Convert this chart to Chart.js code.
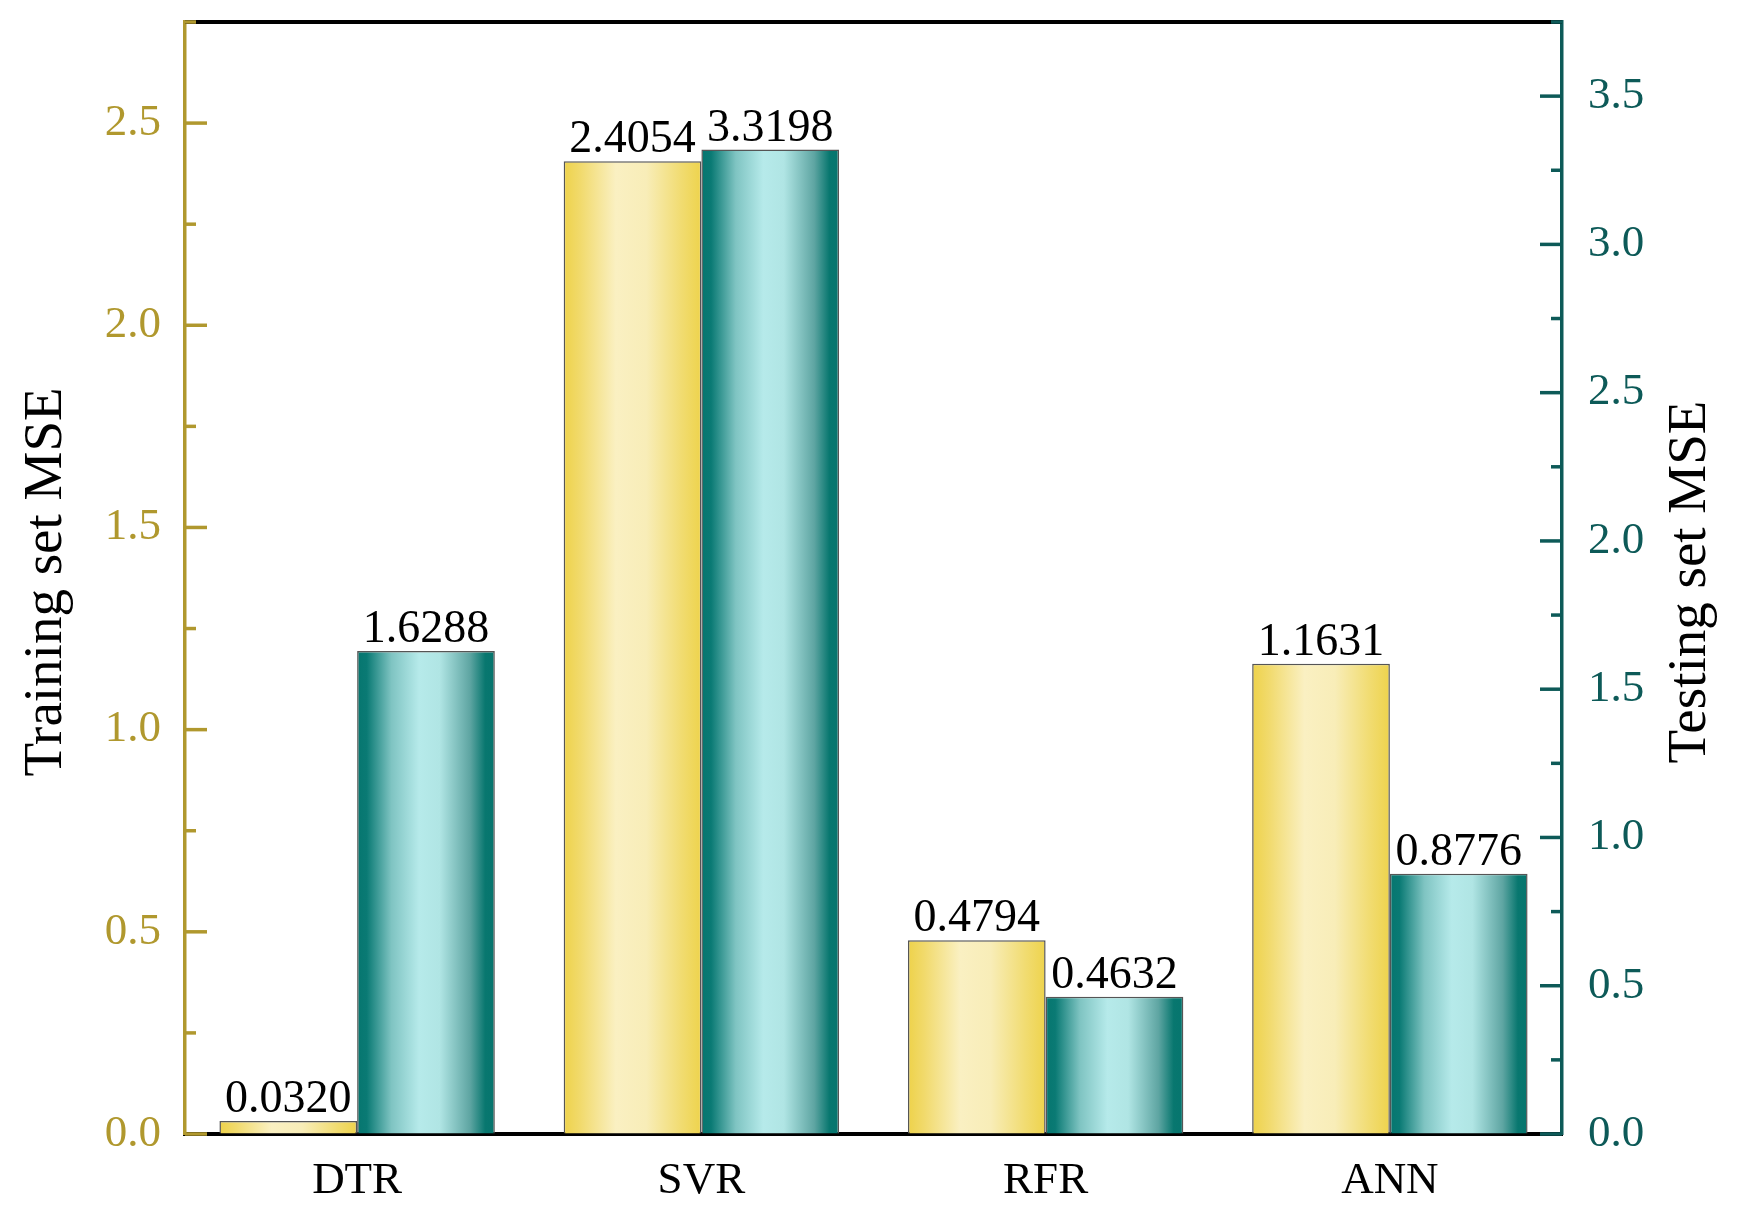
<!DOCTYPE html>
<html>
<head>
<meta charset="utf-8">
<title>Training and testing MSE</title>
<script src="https://cdn.jsdelivr.net/npm/chart.js@4.4.1/dist/chart.umd.min.js"></script>
<style>
  html, body { margin: 0; padding: 0; background: #ffffff; }
  #wrap { width: 1750px; height: 1215px; }
</style>
</head>
<body>
<div id="wrap"><canvas id="mseChart" width="1750" height="1215"></canvas></div>
<script>
// data
const models = ['DTR', 'SVR', 'RFR', 'ANN'];
const trainingMSE = [0.0320, 2.4054, 0.4794, 1.1631];
const testingMSE = [1.6288, 3.3198, 0.4632, 0.8776];

const SERIF = '"Liberation Serif", "Times New Roman", serif';
const OLIVE = '#b0982e';
const TEAL = '#0d5a58';
const CAT_PCT = 0.8;

// horizontal gradient across each bar
function barGradient(stops) {
    return function(context) {
        const chart = context.chart;
        const x = chart.scales.x;
        if (!x || !chart.chartArea) return stops[0][1];
        const catW = x.width / models.length;
        const barW = catW * CAT_PCT / 2;
        const center = x.getPixelForValue(context.dataIndex);
        const left = center - catW * CAT_PCT / 2 + context.datasetIndex * barW;
        const g = chart.ctx.createLinearGradient(left, 0, left + barW, 0);
        stops.forEach(s => g.addColorStop(s[0], s[1]));
        return g;
    };
}

const yellowStops = [[0, '#eed24a'], [0.12, '#f1da6c'], [0.38, '#faf0c2'], [0.6, '#f8edb8'], [0.85, '#f1dc72'], [1, '#eed34c']];
const tealStops = [[0, '#06766f'], [0.07, '#0a7a74'], [0.25, '#7fc4c2'], [0.45, '#b6eaea'], [0.6, '#b0e5e4'], [0.82, '#5ea5a2'], [0.93, '#08776f'], [1, '#06756e']];

// inward major/minor ticks, frame line, titles, value labels
const decorations = {
    id: 'decorations',
    afterDatasetsDraw(chart) {
        const ctx = chart.ctx;
        const area = chart.chartArea;
        ctx.save();

        // top frame line
        ctx.strokeStyle = '#000000';
        ctx.lineWidth = 4;
        ctx.beginPath();
        ctx.moveTo(area.left, area.top);
        ctx.lineTo(area.right, area.top);
        ctx.stroke();

        // inward ticks
        [['y', OLIVE, 1], ['y1', TEAL, -1]].forEach(([id, color, dir]) => {
            const s = chart.scales[id];
            const x0 = dir > 0 ? area.left : area.right;
            ctx.strokeStyle = color;
            ctx.lineWidth = 3.5;
            for (let v = 0; v <= s.max + 1e-9; v += 0.25) {
                const major = Math.abs(v / 0.5 - Math.round(v / 0.5)) < 1e-6;
                const len = major ? 22 : 11;
                const y = s.getPixelForValue(v);
                ctx.beginPath();
                ctx.moveTo(x0, y);
                ctx.lineTo(x0 + dir * len, y);
                ctx.stroke();
            }
        });

        // value labels on top of bars
        ctx.fillStyle = '#000000';
        ctx.font = '46px ' + SERIF;
        ctx.textAlign = 'center';
        ctx.textBaseline = 'alphabetic';
        chart.data.datasets.forEach((ds, i) => {
            chart.getDatasetMeta(i).data.forEach((bar, j) => {
                ctx.fillText(ds.data[j].toFixed(4), bar.x, bar.y - 9);
            });
        });

        // axis titles, both reading bottom to top
        ctx.font = '55px ' + SERIF;
        ctx.textBaseline = 'middle';
        const midY = (area.top + area.bottom) / 2 + 4;
        [['Training set MSE', 47], ['Testing set MSE', 1691]].forEach(([text, x]) => {
            ctx.save();
            ctx.translate(x, midY);
            ctx.rotate(-Math.PI / 2);
            ctx.fillText(text, 0, 0);
            ctx.restore();
        });
        ctx.restore();
    }
};

function onlyHalfSteps(scale) {
    scale.ticks = scale.ticks.filter(t => Math.abs(t.value / 0.5 - Math.round(t.value / 0.5)) < 1e-6);
}

function fitSide(width) {
    return function(scale) {
        scale.width = width;
        scale.paddingTop = 0;
        scale.paddingBottom = 0;
    };
}

new Chart(document.getElementById('mseChart'), {
    type: 'bar',
    data: {
        labels: models,
        datasets: [
            {
                label: 'Training set MSE',
                data: trainingMSE,
                yAxisID: 'y',
                backgroundColor: barGradient(yellowStops),
                borderColor: '#555555',
                borderWidth: 1.5,
                categoryPercentage: CAT_PCT,
                barPercentage: 1.0
            },
            {
                label: 'Testing set MSE',
                data: testingMSE,
                yAxisID: 'y1',
                backgroundColor: barGradient(tealStops),
                borderColor: '#555555',
                borderWidth: 1.5,
                categoryPercentage: CAT_PCT,
                barPercentage: 1.0
            }
        ]
    },
    options: {
        responsive: false,
        animation: false,
        layout: { padding: { top: 22, left: 0, right: 0, bottom: 0 } },
        plugins: {
            legend: { display: false },
            tooltip: { enabled: false }
        },
        scales: {
            x: {
                grid: { display: false },
                border: { display: true, color: '#000000', width: 4 },
                ticks: { color: '#000000', font: { family: SERIF, size: 45 }, padding: 12 },
                afterFit: function(scale) {
                    scale.height = 81;
                    scale.paddingLeft = 0;
                    scale.paddingRight = 0;
                }
            },
            y: {
                position: 'left',
                min: 0,
                max: 2.75,
                grid: { display: true, drawOnChartArea: false, drawTicks: false },
                border: { display: true, color: OLIVE, width: 3.5 },
                ticks: {
                    stepSize: 0.5,
                    includeBounds: false,
                    color: OLIVE,
                    padding: 24,
                    font: { family: SERIF, size: 45, lineHeight: 0.9 },
                    callback: v => v.toFixed(1)
                },
                afterBuildTicks: onlyHalfSteps,
                afterFit: fitSide(185)
            },
            y1: {
                position: 'right',
                min: 0,
                max: 3.75,
                grid: { display: true, drawOnChartArea: false, drawTicks: false },
                border: { display: true, color: TEAL, width: 3.5 },
                ticks: {
                    stepSize: 0.5,
                    includeBounds: false,
                    color: TEAL,
                    padding: 26,
                    font: { family: SERIF, size: 45, lineHeight: 0.9 },
                    callback: v => v.toFixed(1)
                },
                afterBuildTicks: onlyHalfSteps,
                afterFit: fitSide(188)
            }
        }
    },
    plugins: [decorations]
});
</script>
</body>
</html>
